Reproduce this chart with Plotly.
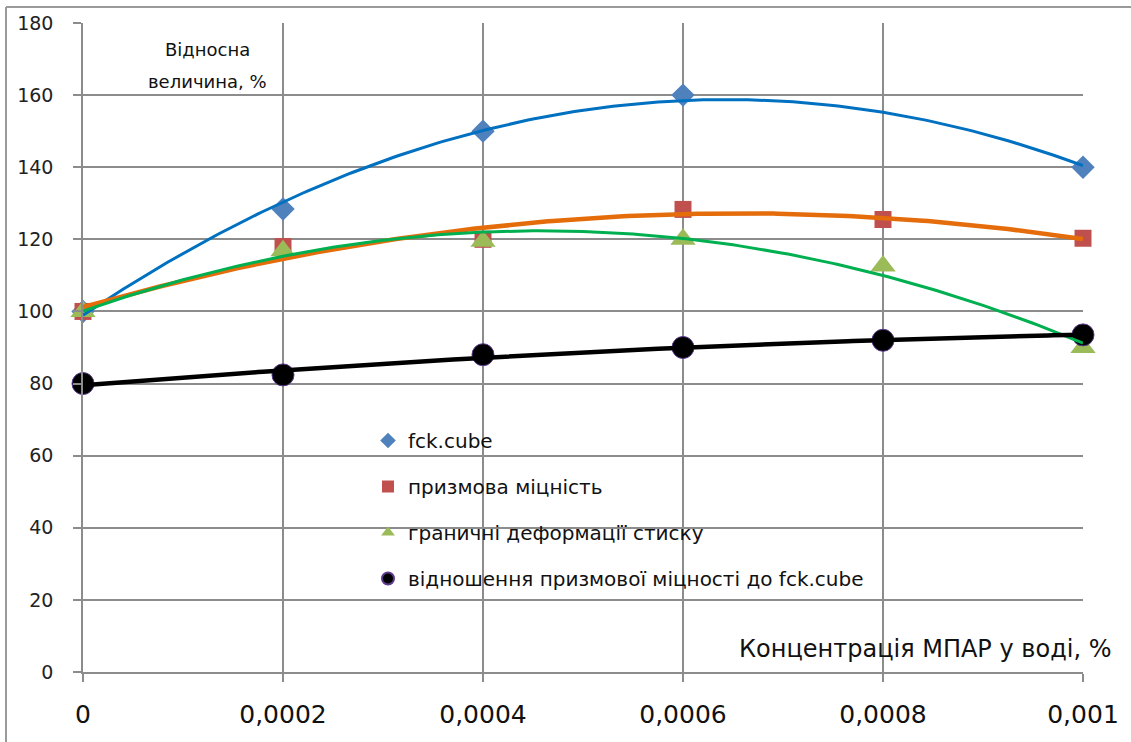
import numpy as np
import plotly.graph_objects as go

# ---- data ----
x_vals = [0, 0.0002, 0.0004, 0.0006, 0.0008, 0.001]
x_ticktext = ["0", "0,0002", "0,0004", "0,0006", "0,0008", "0,001"]
y_ticks = [0, 20, 40, 60, 80, 100, 120, 140, 160, 180]

fck_cube = [100, 128.4, 150, 160, None, 140]
prism_strength = [100, 118, 120, 128.3, 125.5, 120.3]
ultimate_strain = [100, 116.8, 119.5, 120, 112.6, 90]
ratio = [80, 82.4, 88, 90, 92, 93.5]

names = ["fck.cube", "призмова міцність", "граничні деформації стиску",
         "відношення призмової міцності до fck.cube"]

FONT = "DejaVu Sans"

fig = go.Figure()

series = [
    (fck_cube, names[0], dict(symbol="diamond", size=18, color="#4F81BD")),
    (prism_strength, names[1], dict(symbol="square", size=17, color="#C0504D")),
    (ultimate_strain, names[2], dict(symbol="triangle-up", size=22, color="#9BBB59")),
    (ratio, names[3], dict(symbol="circle", size=22, color="#000000",
                          line=dict(color="#5B3A8C", width=1))),
]

for i, (ys, nm, mk) in enumerate(series):
    fig.add_trace(go.Scatter(
        x=x_vals, y=ys, mode="markers", name=nm, marker=mk,
        legendgroup=f"g{i}", cliponaxis=False,
    ))

# polynomial (order 2) trendlines, like Excel
trend_styles = [("#0070C0", 3), ("#E46C0A", 4.5), ("#00B050", 3), ("#000000", 4.5)]
xs_fine = np.linspace(0, 0.001, 201)
for (ys, nm, mk), (col, w) in zip(series, trend_styles):
    xa = np.array([x for x, y in zip(x_vals, ys) if y is not None]) * 1000
    ya = np.array([y for y in ys if y is not None])
    coef = np.polyfit(xa, ya, 2)
    fig.add_trace(go.Scatter(
        x=xs_fine, y=np.polyval(coef, xs_fine * 1000), mode="lines",
        line=dict(color=col, width=w), showlegend=False, hoverinfo="skip",
        cliponaxis=False,
    ))

# pixel -> paper helpers (plot area 83..1083 x, 23..672 y)
L, R, T, B = 83, 1083, 23, 672
def px(p):
    return (p - L) / (R - L)
def py(p):
    return (B - p) / (B - T)

shapes = [
    # white areas covering grid behind legend and titles
    dict(type="rect", xref="paper", yref="paper", x0=px(362), x1=px(913), y0=py(606), y1=py(418),
         fillcolor="white", line=dict(width=0), layer="between"),
    dict(type="rect", xref="paper", yref="paper", x0=px(130), x1=px(284), y0=py(98), y1=py(34),
         fillcolor="white", line=dict(width=0), layer="between"),
    dict(type="rect", xref="paper", yref="paper", x0=px(927), x1=px(1100), y0=py(676), y1=py(632),
         fillcolor="white", line=dict(width=0), layer="between"),
    # chart-area border (left and top)
    dict(type="line", xref="paper", yref="paper", x0=px(6), x1=px(6), y0=py(7), y1=py(745),
         line=dict(color="#9a9a9a", width=2)),
    dict(type="line", xref="paper", yref="paper", x0=px(6), x1=px(1135), y0=py(7), y1=py(7),
         line=dict(color="#9a9a9a", width=2)),
]

annotations = [
    dict(text="Відносна", xref="paper", yref="paper",
         x=px(207), y=py(50), xanchor="center", yanchor="middle", showarrow=False,
         font=dict(family=FONT, size=18, color="#111111")),
    dict(text="величина, %", xref="paper", yref="paper",
         x=px(207), y=py(81), xanchor="center", yanchor="middle", showarrow=False,
         font=dict(family=FONT, size=18, color="#111111")),
    dict(text="Концентрація МПАР у воді, %", xref="paper", yref="paper",
         x=px(1113), y=py(649), xanchor="right", yanchor="middle", showarrow=False,
         font=dict(family=FONT, size=24, color="#111111")),
]

fig.update_layout(
    width=1131, height=742,
    margin=dict(l=L, r=1131 - R, t=T, b=742 - B, autoexpand=False),
    paper_bgcolor="white", plot_bgcolor="white",
    separators=", ",
    font=dict(family=FONT, color="#111111"),
    shapes=shapes, annotations=annotations,
    showlegend=True,
    legend=dict(
        x=px(368), y=py(421), xanchor="left", yanchor="top",
        bgcolor="rgba(0,0,0,0)", borderwidth=0,
        font=dict(family=FONT, size=20, color="#111111"),
        tracegroupgap=17, itemsizing="constant",
    ),
)

fig.update_xaxes(
    range=[0, 0.001], tickmode="array", tickvals=x_vals, ticktext=x_ticktext,
    showgrid=True, gridcolor="#8c8c8c", gridwidth=1.5,
    showline=True, linecolor="#8c8c8c", linewidth=1.5,
    ticks="outside", ticklen=8, tickcolor="#8c8c8c", tickwidth=1.5,
    tickfont=dict(family=FONT, size=25, color="#111111"), ticklabelstandoff=11,
    zeroline=False, automargin=False,
)
fig.update_yaxes(
    range=[0, 180], tickmode="array", tickvals=y_ticks,
    showgrid=True, gridcolor="#8c8c8c", gridwidth=1.5,
    showline=True, linecolor="#8c8c8c", linewidth=1.5,
    ticks="outside", ticklen=8, tickcolor="#8c8c8c", tickwidth=1.5,
    tickfont=dict(family=FONT, size=19, color="#222222"), ticklabelstandoff=16,
    zeroline=False, automargin=False,
)

fig.write_html("out.html")
